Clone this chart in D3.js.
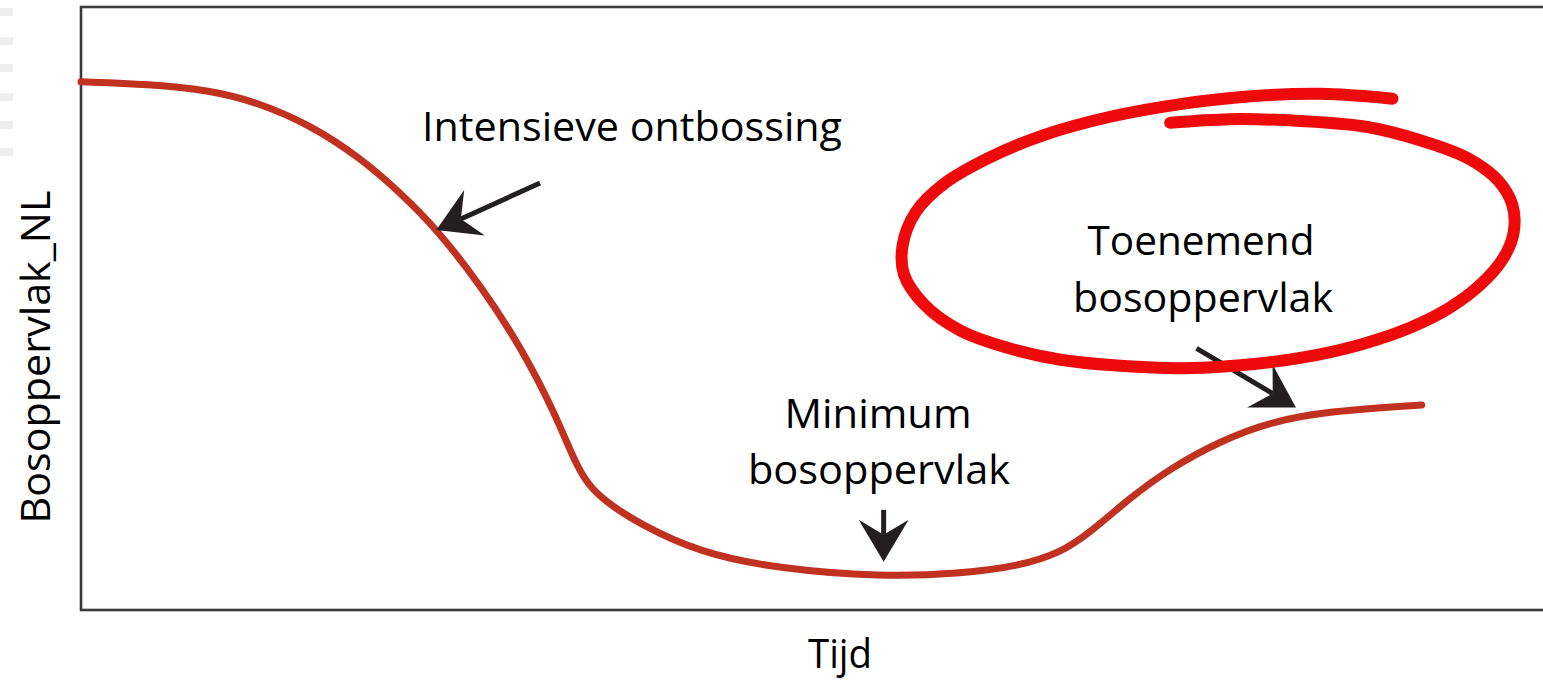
<!DOCTYPE html>
<html>
<head>
<meta charset="utf-8">
<script src="https://cdn.jsdelivr.net/npm/d3@7"></script>
<style>
  body { margin: 0; background: #fff; }
  svg { display: block; }
  text { font-family: "Open Sans", sans-serif; fill: #000; }
</style>
</head>
<body>
<div id="chart"></div>
<script>
// tijd (0-100) en bosoppervlak (0-100)
const tijd = [0, 4.7, 8.8, 12.2, 15.7, 19.1, 21.8, 24.4, 27.3, 30.0, 32.4, 34.0, 35.0, 36.3, 38.2, 42.3, 47.8,
              54.7, 60.1, 64.2, 67.0, 69.0, 71.8, 74.5, 77.9, 81.3, 85.4, 91.7];
const bos  = [87.6, 87.2, 86.2, 84.1, 80.4, 75.0, 69.3, 63.0, 53.9, 44.0, 32.8, 23.2, 19.9, 17.3, 14.3, 9.5, 6.8,
              5.5, 6.0, 7.3, 9.5, 12.8, 18.7, 23.5, 28.0, 31.2, 33.0, 34.0];

// rode lus om "Toenemend bosoppervlak"
const lusX = [74.5, 78.6, 83.4, 88.0, 91.6, 94.8, 96.9, 97.9, 98.0, 97.3, 95.7, 93.6, 90.9, 87.5, 83.4, 79.3,
              75.2, 71.1, 67.0, 63.2, 60.1, 57.7, 56.3, 56.2, 57.1, 59.1, 62.2, 65.9, 70.4, 75.2, 80.0, 84.8, 89.7];
const lusY = [80.8, 81.4, 81.1, 80.1, 77.9, 75.0, 71.3, 67.2, 62.7, 58.4, 53.9, 50.1, 46.8, 44.0, 41.8, 40.6,
              40.1, 40.5, 41.5, 43.6, 46.4, 50.6, 55.6, 60.5, 66.0, 70.8, 75.1, 78.8, 81.8, 83.9, 85.2, 85.6, 84.8];

// pijlen: [tijd start, bos start, tijd punt, bos punt]
const pijlen = [
  [31.4, 70.8, 24.3, 63.0],
  [54.9, 16.6, 54.9, 8.0],
  [76.3, 43.4, 83.1, 33.6]
];

const xTitel = "Tijd";
const yTitel = "Bosoppervlak_NL";

const width = 1543, height = 681;
const x = d3.scaleLinear().domain([0, 100]).range([81, 1543]);
const y = d3.scaleLinear().domain([0, 100]).range([610, 7]);

const svg = d3.select("#chart").append("svg")
    .attr("width", width)
    .attr("height", height);

// vage watermerkstreepjes links
const streep = [12, 41, 68, 97, 125, 152];
svg.append("g").selectAll("rect")
  .data(streep)
  .enter().append("rect")
    .attr("x", 0).attr("y", d => d - 4)
    .attr("width", 13).attr("height", 8)
    .attr("fill", "#eeeeee");

// kader
svg.append("rect")
    .attr("x", x(0)).attr("y", y(100))
    .attr("width", 1500).attr("height", y(0) - y(100))
    .attr("fill", "none")
    .attr("stroke", "#3a3a3a")
    .attr("stroke-width", 2.6);

// curve
const punten = tijd.map((t, i) => [t, bos[i]]);
svg.append("path")
    .datum(punten)
    .attr("d", d3.line().x(d => x(d[0])).y(d => y(d[1])).curve(d3.curveBasis))
    .attr("fill", "none")
    .attr("stroke", "#c1311f")
    .attr("stroke-width", 7)
    .attr("stroke-linecap", "round");

// pijlen
function pijl(p) {
  let x0 = x(p[0]), y0 = y(p[1]), x1 = x(p[2]), y1 = y(p[3]);
  let dx = x0 - x1, dy = y0 - y1;
  let len = Math.hypot(dx, dy);
  let ux = dx / len, uy = dy / len;
  let nx = -uy, ny = ux;
  let kop = 42, breed = 25, inkeping = 27;
  let g = svg.append("g");
  g.append("line")
      .attr("x1", x0).attr("y1", y0)
      .attr("x2", x1 + ux * inkeping).attr("y2", y1 + uy * inkeping)
      .attr("stroke", "#231f20")
      .attr("stroke-width", 5);
  let pts = [
    [x1, y1],
    [x1 + ux * kop + nx * breed, y1 + uy * kop + ny * breed],
    [x1 + ux * inkeping, y1 + uy * inkeping],
    [x1 + ux * kop - nx * breed, y1 + uy * kop - ny * breed]
  ];
  g.append("path")
      .attr("d", "M" + pts.join("L") + "Z")
      .attr("fill", "#231f20");
}
pijlen.forEach(pijl);

// rode lus
const lus = lusX.map((v, i) => [v, lusY[i]]);
svg.append("path")
    .datum(lus)
    .attr("d", d3.line().x(d => x(d[0])).y(d => y(d[1])).curve(d3.curveCatmullRom.alpha(0.5)))
    .attr("fill", "none")
    .attr("stroke", "#ee0a0a")
    .attr("stroke-width", 12)
    .attr("stroke-linecap", "round");

// teksten
function tekst(s, cx, by, breedte, rot) {
  let t = svg.append("text")
      .attr("text-anchor", "middle")
      .attr("font-size", 40)
      .attr("textLength", breedte)
      .attr("lengthAdjust", "spacingAndGlyphs")
      .text(s);
  if (rot) {
    t.attr("transform", "translate(" + cx + "," + by + ") rotate(-90)");
  } else {
    t.attr("x", cx).attr("y", by);
  }
}
tekst("Intensieve ontbossing", 632, 141, 420);
tekst("Minimum", 878, 428, 187);
tekst("bosoppervlak", 879, 484, 262);
tekst("Toenemend", 1201, 255, 227);
tekst("bosoppervlak", 1203, 312, 260);
tekst(xTitel, 840, 668, 64);
tekst(yTitel, 50, 357, 333, true);
</script>
</body>
</html>
